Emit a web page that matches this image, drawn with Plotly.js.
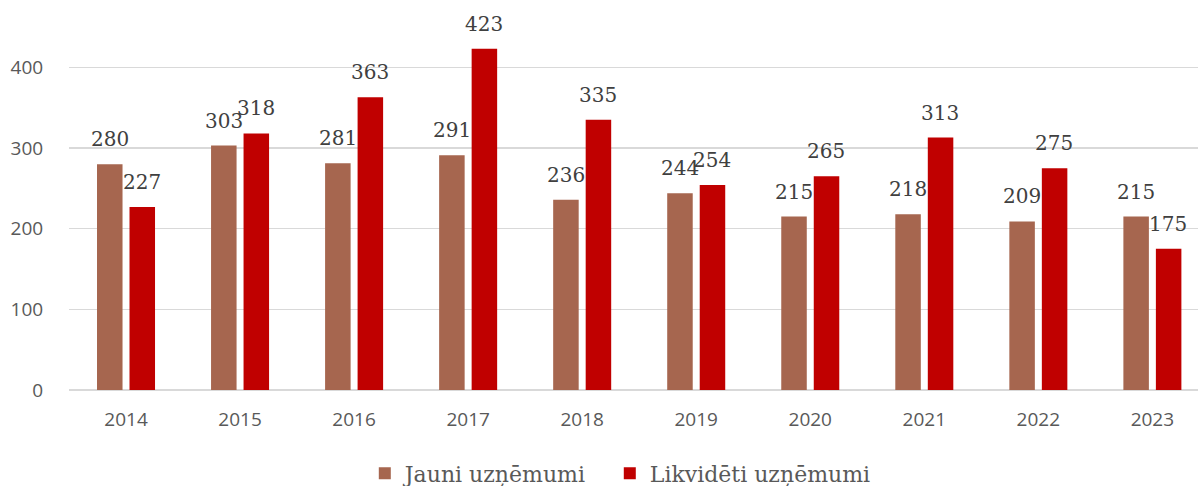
<!DOCTYPE html>
<html>
<head>
<meta charset="utf-8">
<script src="https://cdn.plot.ly/plotly-3.0.1.min.js"></script>
<style>html,body{margin:0;padding:0;background:#fff;}#chart{width:1198px;height:486px;}</style>
</head>
<body>
<div id="chart"></div>
<script>
const years = ['2014','2015','2016','2017','2018','2019','2020','2021','2022','2023'];
const jauni = [280, 303, 281, 291, 236, 244, 215, 218, 209, 215];
const likvideti = [227, 318, 363, 423, 335, 254, 265, 313, 275, 175];
const seriesNames = ['Jauni uzņēmumi', 'Likvidēti uzņēmumi'];
const seriesColors = ['#A6664F', '#C00000'];
const yTicks = [0, 100, 200, 300, 400];

const labelFont = {family: 'DejaVu Serif', size: 20, color: '#404040'};
const seriesData = [jauni, likvideti];
const legendIds = ['legend', 'legend2'];
const traces = seriesData.map((vals, i) => ({
  type: 'bar',
  x: years,
  y: vals,
  name: seriesNames[i],
  legend: legendIds[i],
  marker: {color: seriesColors[i]},
  hoverinfo: 'skip'
}));

// value labels placed via the axes (category index + value), shifted to their bar in the group
const shifts = [-16, 16];
const annotations = [];
seriesData.forEach((vals, i) => {
  vals.forEach((v, k) => {
    annotations.push({
      x: k, y: v, xref: 'x', yref: 'y',
      text: String(v), showarrow: false,
      xanchor: 'center', yanchor: 'bottom',
      xshift: shifts[i], yshift: 11,
      font: labelFont
    });
  });
});

const legendStyle = {
  orientation: 'h', xanchor: 'left', y: -0.172, yanchor: 'top',
  font: {family: 'DejaVu Serif', size: 22, color: '#595959'},
  bgcolor: 'rgba(0,0,0,0)',
  itemclick: false
};

const layout = {
  width: 1198, height: 486,
  margin: {l: 69, r: 0, t: 27, b: 96, autoexpand: false},
  paper_bgcolor: '#ffffff', plot_bgcolor: '#ffffff',
  barmode: 'group',
  bargap: 0.43,
  bargroupgap: 0.215,
  showlegend: true,
  legend: Object.assign({}, legendStyle, {x: 0.262}),
  legend2: Object.assign({}, legendStyle, {x: 0.479}),
  annotations: annotations,
  xaxis: {
    type: 'category',
    categoryorder: 'array', categoryarray: years,
    range: [-0.5, years.length - 0.6], autorange: false,
    showgrid: false, zeroline: false, showline: false,
    ticks: 'outside', ticklen: 12, tickcolor: 'rgba(0,0,0,0)',
    tickfont: {family: 'Open Sans', size: 19, color: '#595959'}
  },
  yaxis: {
    range: [0, 450], autorange: false,
    tickvals: yTicks,
    ticktext: yTicks.map(String),
    showgrid: true, gridcolor: '#d9d9d9', gridwidth: 1.5,
    zeroline: true, zerolinecolor: '#d9d9d9', zerolinewidth: 2,
    showline: false,
    ticks: 'outside', ticklen: 21, tickcolor: 'rgba(0,0,0,0)',
    tickfont: {family: 'Open Sans', size: 19, color: '#595959'}
  }
};
Plotly.newPlot('chart', traces, layout, {staticPlot: true, displayModeBar: false});
</script>
</body>
</html>
